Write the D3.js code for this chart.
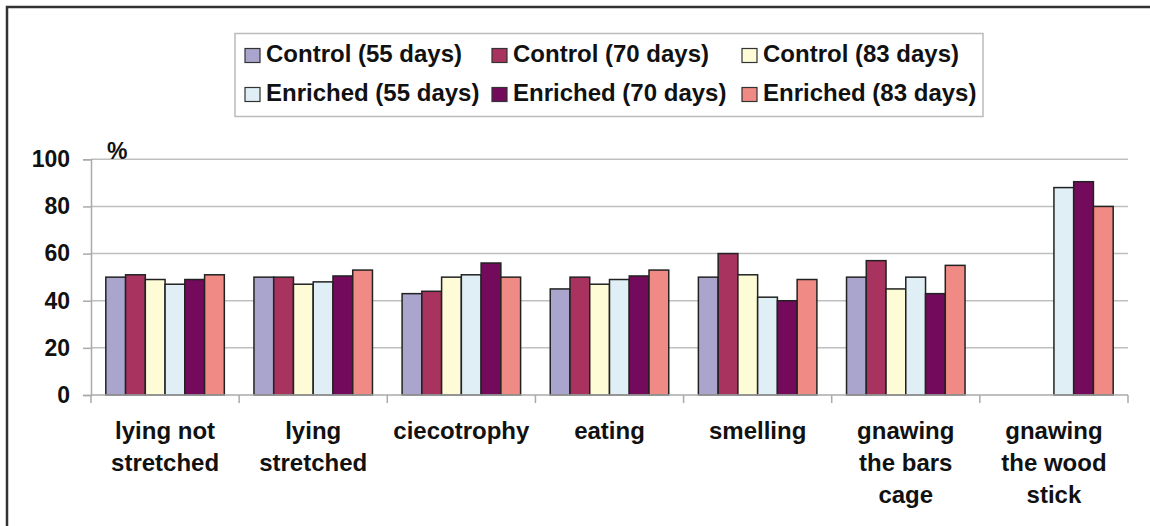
<!DOCTYPE html>
<html>
<head>
<meta charset="utf-8">
<script src="https://cdn.jsdelivr.net/npm/d3@7"></script>
<style>
  html, body { margin: 0; padding: 0; background: #fff; }
  svg { display: block; }
  text { font-family: "Liberation Sans", Arial, sans-serif; font-weight: bold; fill: #111; }
</style>
</head>
<body>
<svg id="chart" width="1150" height="526"></svg>
<script>
const categories = [
  ["lying not", "stretched"],
  ["lying", "stretched"],
  ["ciecotrophy"],
  ["eating"],
  ["smelling"],
  ["gnawing", "the bars", "cage"],
  ["gnawing", "the wood", "stick"]
];
const seriesNames = ["Control (55 days)", "Control (70 days)", "Control (83 days)",
                     "Enriched (55 days)", "Enriched (70 days)", "Enriched (83 days)"];
const seriesColors = ["#a9a5cd", "#a8335f", "#fdfcd6", "#e0eef5", "#730a5c", "#f08a84"];
const control55  = [50, 50, 43, 45, 50, 50, null];
const control70  = [51, 50, 44, 50, 60, 57, null];
const control83  = [49, 47, 50, 47, 51, 45, null];
const enriched55 = [47, 48, 51, 49, 41.5, 50, 88];
const enriched70 = [49, 50.5, 56, 50.5, 40, 43, 90.5];
const enriched83 = [51, 53, 50, 53, 49, 55, 80];
const seriesValues = [control55, control70, control83, enriched55, enriched70, enriched83];
const yTicks = [0, 20, 40, 60, 80, 100];

const svg = d3.select("#chart");

// outer frame
svg.append("rect").attr("x", 7).attr("y", 7).attr("width", 1160).attr("height", 540)
  .attr("fill", "none").attr("stroke", "#333").attr("stroke-width", 2.5);

const catKeys = categories.map(c => c.join(" "));
const x = d3.scaleBand().domain(catKeys).range([91, 1128]).paddingInner(0).paddingOuter(0);
const x1 = d3.scaleBand().domain(seriesNames).range([0, x.bandwidth()]).paddingInner(0).paddingOuter(0.75);
const y = d3.scaleLinear().domain([0, 100]).range([395, 159.3]);

// gridlines
svg.append("g").selectAll("line").data(yTicks.filter(t => t > 0)).join("line")
  .attr("x1", 91).attr("x2", 1128)
  .attr("y1", d => y(d)).attr("y2", d => y(d))
  .attr("stroke", "#bfbfbf").attr("stroke-width", 1.5);

// y axis
const yAxis = d3.axisLeft(y).tickValues(yTicks).tickSize(8).tickPadding(13);
const gy = svg.append("g").attr("transform", "translate(91,0)").call(yAxis);
gy.select(".domain").attr("stroke", "#aaa").attr("stroke-width", 1.5);
gy.selectAll(".tick line").attr("stroke", "#aaa").attr("stroke-width", 1.5);
gy.selectAll(".tick text").style("font-size", "23px").attr("fill", "#111")
  .style("font-family", "'Liberation Sans', Arial, sans-serif").style("font-weight", "bold");

svg.append("text").attr("x", 107).attr("y", 159).style("font-size", "23px").text("%");

// bars
const groups = svg.append("g").selectAll("g").data(catKeys).join("g")
  .attr("transform", d => `translate(${x(d)},0)`);
groups.selectAll("rect")
  .data((d, i) => seriesNames.map((s, j) => ({ s, j, v: seriesValues[j][i] })).filter(e => e.v != null))
  .join("rect")
  .attr("x", e => x1(e.s))
  .attr("width", x1.bandwidth())
  .attr("y", e => y(e.v))
  .attr("height", e => y(0) - y(e.v))
  .attr("fill", e => seriesColors[e.j])
  .attr("stroke", "#222").attr("stroke-width", 1.5);

// x axis
svg.append("line").attr("x1", 91).attr("x2", 1128).attr("y1", y(0)).attr("y2", y(0))
  .attr("stroke", "#aaa").attr("stroke-width", 1.5);
const bounds = catKeys.map(k => x(k)).concat([x.range()[1]]);
svg.append("g").selectAll("line").data(bounds).join("line")
  .attr("x1", d => d).attr("x2", d => d).attr("y1", y(0)).attr("y2", y(0) + 8)
  .attr("stroke", "#aaa").attr("stroke-width", 1.5);

// x labels
const xl = svg.append("g").selectAll("text").data(categories).join("text")
  .attr("text-anchor", "middle")
  .attr("x", (d, i) => x(catKeys[i]) + x.bandwidth() / 2)
  .attr("y", 439)
  .style("font-size", "24px");
xl.selectAll("tspan").data(d => d).join("tspan")
  .attr("x", function () { return d3.select(this.parentNode).attr("x"); })
  .attr("dy", (d, i) => i === 0 ? 0 : 32)
  .text(d => d);

// legend
svg.append("rect").attr("x", 235).attr("y", 33.5).attr("width", 748).attr("height", 83)
  .attr("fill", "#fff").attr("stroke", "#bbb").attr("stroke-width", 1.5);
const colX = [245, 492, 742];
const rowY = [61.5, 100.5];
const leg = svg.append("g").selectAll("g").data(seriesNames).join("g")
  .attr("transform", (d, i) => `translate(${colX[i % 3]},${rowY[Math.floor(i / 3)]})`);
leg.append("rect").attr("x", 0).attr("y", -13).attr("width", 15).attr("height", 14)
  .attr("fill", (d, i) => seriesColors[i]).attr("stroke", "#333").attr("stroke-width", 1.2);
leg.append("text").attr("x", 21).attr("y", 0).style("font-size", "24px").text(d => d);
</script>
</body>
</html>
